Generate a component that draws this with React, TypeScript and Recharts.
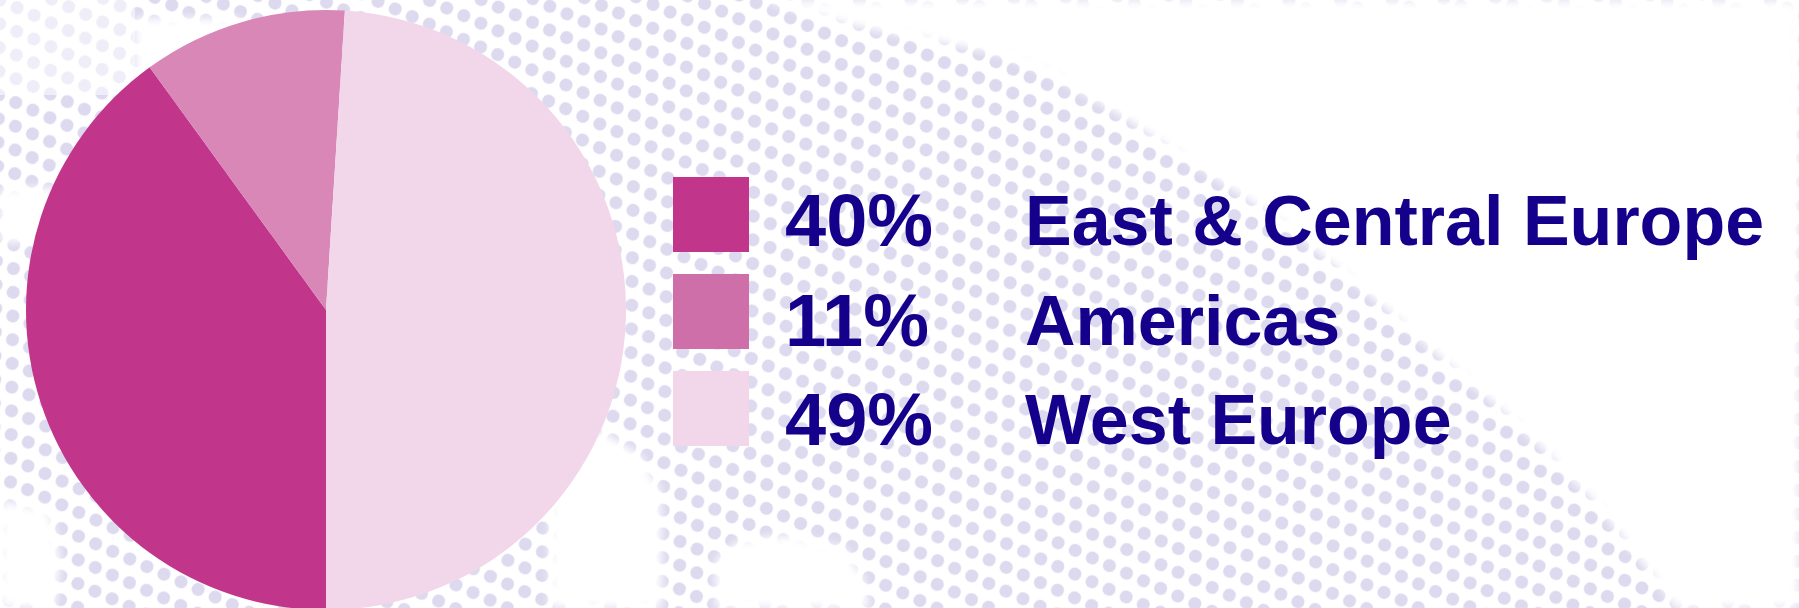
import React from 'react';
import { PieChart, Pie, Cell, Legend } from 'recharts';

const regions = ['East & Central Europe', 'Americas', 'West Europe'];
const shares = [40, 11, 49];
const shareLabels = ['40%', '11%', '49%'];
const sliceColors = ['#C1358B', '#D887B7', '#F2D7EA'];
const swatchColors = ['#C1358B', '#CE6FA9', '#F2D7EA'];

const data = regions.map((name, i) => ({ name, value: shares[i] }));

const W = 1799;
const H = 608;
const TEXT = '#15008C';
const DOT = '#DDD9EE';
const FONT = '"Liberation Sans", Arial, sans-serif';

// white areas cut out of the halftone backdrop
const gaps = [
  'M760,0 L850,25 L1000,54 L1051,74 L1122,116 L1168,147 L1234,190 L1285,225 L1336,267 L1387,310 L1443,360 L1489,399 L1540,446 L1596,504 L1663,589 L1675,608 L1799,608 L1799,0 Z',
  'M0,500 L50,510 L60,560 L55,608 L0,608 Z',
  'M0,188 L70,188 L70,242 L0,242 Z',
  'M550,430 L600,430 L640,455 L660,490 L662,608 L550,608 Z',
  'M716,608 L716,560 L740,540 L790,535 L845,548 L862,575 L870,608 Z',
  'M135,18 L240,18 L240,78 L135,78 Z',
];

function Halftone() {
  const r = 6.5;
  const sx = 18.7;
  const sy = 43.6;
  return (
    <svg width={W} height={H} style={{ position: 'absolute', left: 0, top: 0 }}>
      <defs>
        <pattern id="dots" width={sx} height={sy} patternUnits="userSpaceOnUse" patternTransform="rotate(24)">
          <circle cx={0} cy={0} r={r} fill={DOT} />
          <circle cx={sx} cy={0} r={r} fill={DOT} />
          <circle cx={sx / 2} cy={sy / 2} r={r} fill={DOT} />
          <circle cx={0} cy={sy} r={r} fill={DOT} />
          <circle cx={sx} cy={sy} r={r} fill={DOT} />
        </pattern>
        <filter id="soft" x="-10%" y="-10%" width="120%" height="120%">
          <feGaussianBlur stdDeviation="5" />
        </filter>
        <mask id="band" maskUnits="userSpaceOnUse" x={0} y={0} width={W} height={H}>
          <rect width={W} height={H} fill="#fff" />
          <rect x={0} y={0} width={135} height={95} fill="#777" />
          <g filter="url(#soft)">
            {gaps.map((d) => (
              <path key={d} d={d} fill="#000" />
            ))}
          </g>
        </mask>
      </defs>
      <rect width={W} height={H} fill="url(#dots)" mask="url(#band)" />
    </svg>
  );
}

const renderLegend = () => (
  <svg width={W} height={H} style={{ display: 'block' }}>
    {regions.map((name, i) => {
      const top = 177 + i * 97;
      const base = 246 + i * 99.5;
      return (
        <g key={name}>
          <rect x={673} y={top} width={76} height={75} fill={swatchColors[i]} />
          <text x={785} y={base} fontSize={74} fontWeight="bold" fontFamily={FONT} fill={TEXT}>
            {shareLabels[i]}
          </text>
          <text x={1025} y={base - 1} fontSize={70} fontWeight="bold" fontFamily={FONT} fill={TEXT}>
            {name}
          </text>
        </g>
      );
    })}
  </svg>
);

export default function App() {
  return (
    <div style={{ position: 'absolute', left: 0, top: 0, width: W, height: H, background: '#fff', overflow: 'hidden' }}>
      <Halftone />
      <div style={{ position: 'absolute', left: 0, top: 0 }}>
        <PieChart width={W} height={H} margin={{ top: 0, right: 0, bottom: 0, left: 0 }}>
          <Pie
            data={data}
            dataKey="value"
            nameKey="name"
            cx={326}
            cy={310}
            outerRadius={300}
            startAngle={-90}
            endAngle={-450}
            stroke="none"
            isAnimationActive={false}
          >
            {data.map((d, i) => (
              <Cell key={d.name} fill={sliceColors[i]} />
            ))}
          </Pie>
          <Legend
            layout="horizontal"
            verticalAlign="middle"
            align="center"
            wrapperStyle={{ left: 0, top: 0, width: W, height: H }}
            content={renderLegend}
          />
        </PieChart>
      </div>
    </div>
  );
}
